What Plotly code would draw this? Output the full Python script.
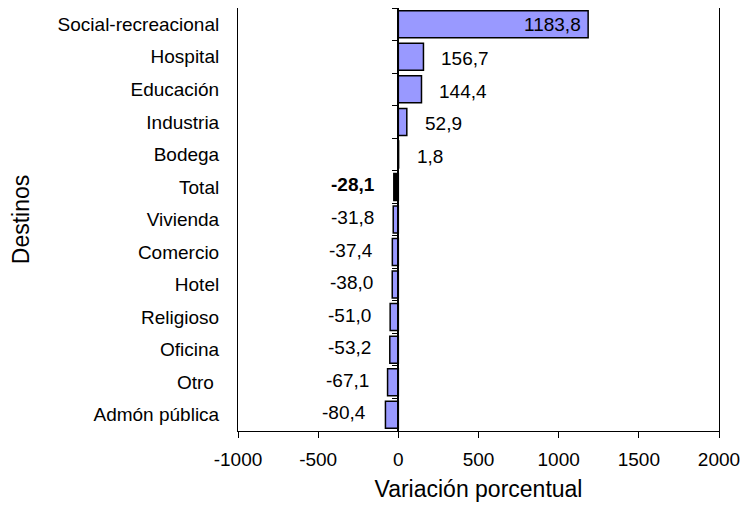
import plotly.graph_objects as go

categories = ["Social-recreacional", "Hospital", "Educación", "Industria", "Bodega", "Total",
              "Vivienda", "Comercio", "Hotel", "Religioso", "Oficina", "Otro ", "Admón pública"]
values = [1183.8, 156.7, 144.4, 52.9, 1.8, -28.1, -31.8, -37.4, -38.0, -51.0, -53.2, -67.1, -80.4]
labels = ["1183,8", "156,7", "144,4", "52,9", "1,8", "<b>-28,1</b>", "-31,8", "-37,4", "-38,0",
          "-51,0", "-53,2", "-67,1", "-80,4"]
x_ticks = [-1000, -500, 0, 500, 1000, 1500, 2000]

n = len(categories)
ypos = [n - 1 - i for i in range(n)]
colors = ["#000000" if c == "Total" else "#9999FF" for c in categories]

FONT = "Liberation Sans, Arial, sans-serif"
FS = 19

fig = go.Figure()
fig.add_trace(go.Bar(
    x=values, y=ypos, orientation="h",
    marker=dict(color=colors, line=dict(color="black", width=1.5)),
    width=0.83, hoverinfo="skip",
))
# invisible trace to keep the category axis at x=0 drawn
fig.add_trace(go.Scatter(x=[None], y=[None], yaxis="y2", showlegend=False))

for v, y, t in zip(values, ypos, labels):
    if v > 500:
        fig.add_annotation(x=v, y=y, text=t, showarrow=False, xanchor="right", xshift=-5,
                           font=dict(family=FONT, size=FS, color="black"))
    elif v >= 0:
        fig.add_annotation(x=v, y=y, text=t, showarrow=False, xanchor="left", xshift=16,
                           yshift=-2, font=dict(family=FONT, size=FS, color="black"))
    else:
        fig.add_annotation(x=v, y=y, text=t, showarrow=False, xanchor="right", xshift=-17,
                           yshift=2, font=dict(family=FONT, size=FS, color="black"))

fig.update_layout(
    width=732, height=494,
    margin=dict(l=230, r=21, t=0, b=71, autoexpand=False),
    paper_bgcolor="white", plot_bgcolor="white",
    showlegend=False,
    font=dict(family=FONT, size=FS, color="black"),
    xaxis=dict(range=[-1000, 2000], tickvals=x_ticks, ticktext=[str(v) for v in x_ticks],
               ticks="outside", ticklen=6, tickcolor="black", showgrid=False, zeroline=False,
               showline=True, linecolor="black", linewidth=1, mirror=True,
               ticklabelstandoff=5, automargin=False, ticklabeloverflow="allow",
               title=dict(text="Variación porcentual", standoff=26)),
    yaxis=dict(range=[-0.5, n - 0.5], tickvals=ypos, ticktext=categories, ticks="",
               showgrid=False, zeroline=False, showline=True, linecolor="black", linewidth=1,
               mirror=True, ticklabelstandoff=14, automargin=False,
               title=dict(text="Destinos", standoff=28)),
    yaxis2=dict(range=[-0.5, n - 0.5], overlaying="y", anchor="free", position=1/3,
                side="left", showline=True, linecolor="black", linewidth=1.5,
                tickvals=[i - 0.5 for i in range(n + 1)], ticks="outside", ticklen=6,
                tickcolor="black", showticklabels=False, showgrid=False, zeroline=False),
)

fig.write_html("out.html")
